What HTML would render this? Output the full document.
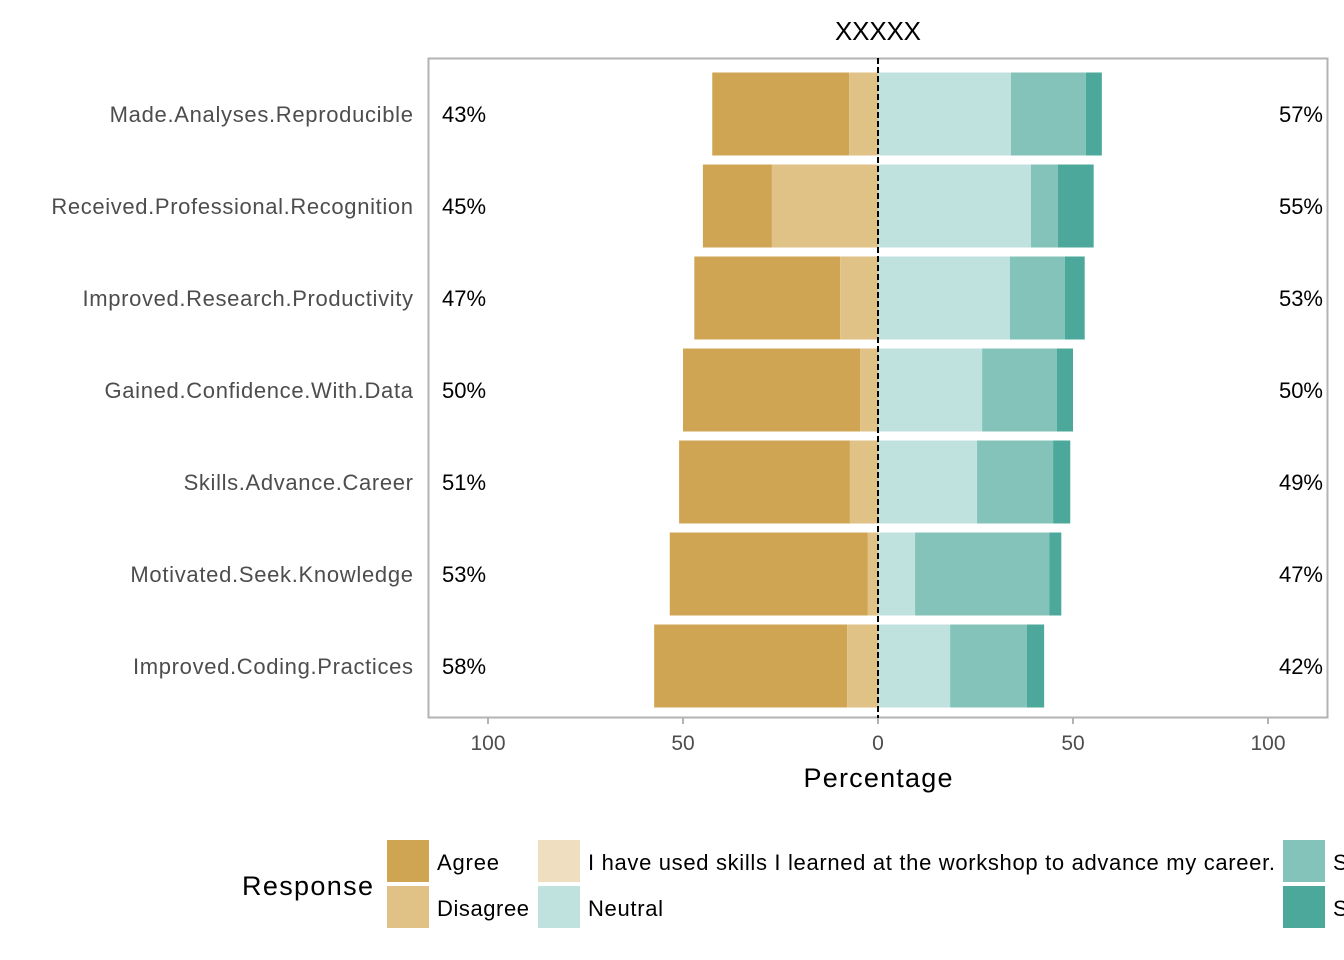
<!DOCTYPE html>
<html><head><meta charset="utf-8"><style>
body{margin:0;background:#fff;}
svg{display:block;font-family:"Liberation Sans",Arial,sans-serif;}
</style></head><body>
<svg id="chart" width="1344" height="960" xmlns="http://www.w3.org/2000/svg">
<text x="878" y="40" text-anchor="middle" font-size="26" textLength="86" fill="#000">XXXXX</text>
<g id="bars"></g>
<rect x="428.5" y="58.5" width="899" height="659" fill="none" stroke="#b3b3b3" stroke-width="2"/>
<line x1="878" y1="58" x2="878" y2="718" stroke="#000" stroke-width="2" stroke-dasharray="6,3"/>
<g id="labels"></g>
<text x="878" y="787" text-anchor="middle" font-size="27" textLength="149" fill="#000">Percentage</text>
<g font-size="22" fill="#000">
<text x="242" y="895" font-size="27" textLength="131">Response</text>
<rect x="387" y="840" width="42" height="42" fill="#cfa554"/>
<text x="437" y="870" textLength="62">Agree</text>
<rect x="387" y="886" width="42" height="42" fill="#e0c287"/>
<text x="437" y="916" textLength="92">Disagree</text>
<rect x="538" y="840" width="42" height="42" fill="#efdfc0"/>
<text x="588" y="870" textLength="687">I have used skills I learned at the workshop to advance my career.</text>
<rect x="538" y="886" width="42" height="42" fill="#bfe2de"/>
<text x="588" y="916" textLength="75">Neutral</text>
<rect x="1283" y="840" width="42" height="42" fill="#83c3b9"/>
<text x="1333" y="870">S</text>
<rect x="1283" y="886" width="42" height="42" fill="#4ba89b"/>
<text x="1333" y="916">S</text>
</g>
</svg>
<script>
const categories=["Made.Analyses.Reproducible","Received.Professional.Recognition","Improved.Research.Productivity","Gained.Confidence.With.Data","Skills.Advance.Career","Motivated.Seek.Knowledge","Improved.Coding.Practices"];
const agree=[35.1,17.7,37.4,45.4,43.8,50.8,49.5];
const disagree=[7.4,27.2,9.7,4.6,7.2,2.6,7.9];
const neutral=[34.1,39.2,33.8,26.7,25.4,9.5,18.5];
const strong1=[19.2,6.9,14.1,19.2,19.5,34.4,19.7];
const strong2=[4.1,9.2,5.1,4.1,4.4,3.1,4.4];
const leftPct=["43%","45%","47%","50%","51%","53%","58%"];
const rightPct=["57%","55%","53%","50%","49%","47%","42%"];
const xTicks=[-100,-50,0,50,100];
const xTickLabels=["100","50","0","50","100"];
const NS="http://www.w3.org/2000/svg";
const x=v=>878+v*3.9;
const rowY=i=>114+i*92;
const bars=document.getElementById('bars'),labels=document.getElementById('labels');
function mk(tag,attrs,parent){const e=document.createElementNS(NS,tag);for(const k in attrs)e.setAttribute(k,attrs[k]);parent.appendChild(e);return e;}
categories.forEach((c,i)=>{
  const y=rowY(i)-41.5,h=83;
  const segs=[[-disagree[i]-agree[i],-disagree[i],"#cfa554","agree"],[-disagree[i],0,"#e0c287","disagree"],
    [0,neutral[i],"#bfe2de","neutral"],[neutral[i],neutral[i]+strong1[i],"#83c3b9","s1"],
    [neutral[i]+strong1[i],neutral[i]+strong1[i]+strong2[i],"#4ba89b","s2"]];
  segs.forEach(s=>{
    const r=mk('rect',{x:x(s[0]),y:y,width:x(s[1])-x(s[0]),height:h,fill:s[2]},bars);
    
    
  });
  const t=mk('text',{x:413,y:rowY(i)+8,'text-anchor':'end','font-size':22,fill:'#4d4d4d'},labels);t.textContent=c;
  
  
  const w=t.getComputedTextLength();
  t.setAttribute('textLength',w*1.06);
  const l=mk('text',{x:442,y:rowY(i)+8,'font-size':22,fill:'#000'},labels);l.textContent=leftPct[i];
  
  
  const r=mk('text',{x:1323,y:rowY(i)+8,'text-anchor':'end','font-size':22,fill:'#000'},labels);r.textContent=rightPct[i];
  
  
});
xTicks.forEach((v,i)=>{
  const tk=mk('line',{x1:x(v),x2:x(v),y1:718,y2:724,stroke:'#b3b3b3','stroke-width':2},labels);
  
  
  const t=mk('text',{x:x(v),y:750,'text-anchor':'middle','font-size':21,fill:'#4d4d4d'},labels);t.textContent=xTickLabels[i];
  
  
});
</script>
</body></html>
